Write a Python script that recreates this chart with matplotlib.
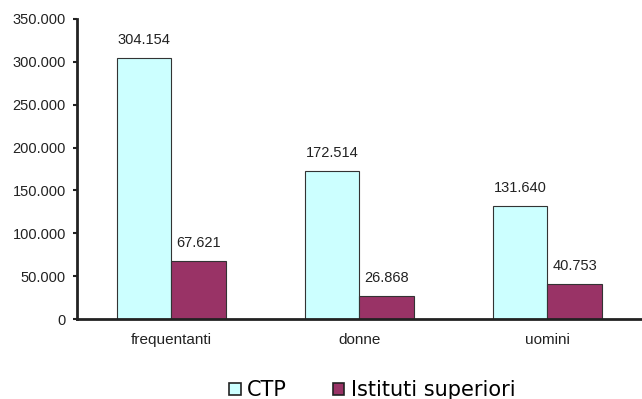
import matplotlib
matplotlib.use("Agg")
import matplotlib.pyplot as plt
from matplotlib.ticker import FuncFormatter
from matplotlib.patches import Patch
import numpy as np

categories = ["frequentanti", "donne", "uomini"]
ctp = [304154, 172514, 131640]
istituti = [67621, 26868, 40753]
series_names = ["CTP", "Istituti superiori"]
yticks = [0, 50000, 100000, 150000, 200000, 250000, 300000, 350000]


def it_thousands(v):
    return f"{int(round(v)):,}".replace(",", ".")


plt.rcParams["font.family"] = ["Liberation Sans", "DejaVu Sans"]

fig = plt.figure(figsize=(6.42, 3.99), dpi=100)
ax = fig.add_axes([0.12, 0.2005, 0.879, 0.752])

x = np.arange(len(categories))
w = 0.29
c1, c2 = "#CCFFFF", "#993366"
b1 = ax.bar(x - w / 2, ctp, w, color=c1, edgecolor="#333333", linewidth=0.8)
b2 = ax.bar(x + w / 2, istituti, w, color=c2, edgecolor="#333333", linewidth=0.8)

for bars, vals in ((b1, ctp), (b2, istituti)):
    for r, v in zip(bars, vals):
        ax.annotate(it_thousands(v), (r.get_x() + r.get_width() / 2, v),
                    xytext=(0, 8), textcoords="offset points",
                    ha="center", va="bottom", fontsize=10.5, color="#222222")

ax.set_xlim(-0.5, 2.5)
ax.set_ylim(0, 350000)
ax.set_yticks(yticks)
ax.yaxis.set_major_formatter(FuncFormatter(lambda v, p: it_thousands(v)))
ax.set_xticks(x)
ax.set_xticklabels(categories)
ax.tick_params(axis="x", length=0, pad=10, labelsize=11, colors="#222222")
ax.tick_params(axis="y", length=3, width=1.5, pad=5, labelsize=10.5, colors="#222222")

for s in ("top", "right"):
    ax.spines[s].set_visible(False)
for s in ("left", "bottom"):
    ax.spines[s].set_linewidth(2)
    ax.spines[s].set_color("#222222")

handles = [Patch(facecolor=c1, edgecolor="#222222", linewidth=1.2),
           Patch(facecolor=c2, edgecolor="#222222", linewidth=1.2)]
fig.legend(handles, series_names, loc="lower center", bbox_to_anchor=(0.58, -0.05),
           ncol=2, frameon=False, prop={"family": "DejaVu Sans", "size": 15},
           handlelength=0.55, handleheight=0.55, handletextpad=0.3, columnspacing=2.2)

fig.savefig("out.png", dpi=100)
